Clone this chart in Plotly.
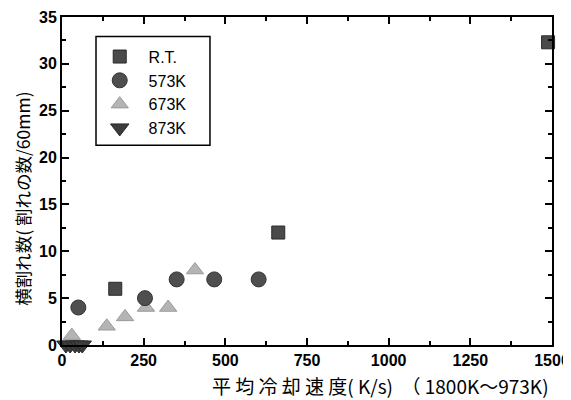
import plotly.graph_objects as go

# Data
rt_x = [163, 662, 1488]
rt_y = [6, 12, 32.3]

k573_x = [50, 254, 351, 466, 602]
k573_y = [4, 5, 7, 7, 7]

k673_x = [30, 137, 193, 257, 325, 407]
k673_y = [1, 2, 3, 4, 4, 8]

k873_x = [12, 25, 40, 52, 62]
k873_y = [0, 0, 0, 0, 0]

series_names = ["R.T.", "573K", "673K", "873K"]

x_ticks = [0, 250, 500, 750, 1000, 1250, 1500]
y_ticks = [0, 5, 10, 15, 20, 25, 30, 35]

x_title = "平 均 冷 却 速 度( K/s)  （ 1800K～973K)"
y_title = "横割れ数( 割れの数/60mm)"

NB = "\u00a0"


def legend_label(name):
    return NB * 2 + name


fig = go.Figure()

fig.add_trace(go.Scatter(
    x=k673_x, y=k673_y, mode="markers", name=legend_label(series_names[2]), legendrank=3,
    marker=dict(symbol="triangle-up", size=15, color="#b4b4b4",
                line=dict(color="#9a9a9a", width=1)),
    cliponaxis=False))
fig.add_trace(go.Scatter(
    x=rt_x, y=rt_y, mode="markers", name=legend_label(series_names[0]), legendrank=1,
    marker=dict(symbol="square", size=13, color="#4a4a4a",
                line=dict(color="#2a2a2a", width=1)),
    cliponaxis=False))
fig.add_trace(go.Scatter(
    x=k573_x, y=k573_y, mode="markers", name=legend_label(series_names[1]), legendrank=2,
    marker=dict(symbol="circle", size=15, color="#4f4f4f",
                line=dict(color="#333333", width=1)),
    cliponaxis=False))
fig.add_trace(go.Scatter(
    x=k873_x, y=k873_y, mode="markers", name=legend_label(series_names[3]), legendrank=4,
    marker=dict(symbol="triangle-down", size=16, color="#3c3c3c",
                line=dict(color="#2a2a2a", width=1)),
    cliponaxis=False))

tickfont = dict(family="Liberation Sans, Arial, sans-serif", size=16,
                color="black", weight="bold")

# page body has an 8px default margin; figure offset accounted for in sizes
fig.update_layout(
    width=563, height=392,
    margin=dict(l=54, r=19, t=8.5, b=55),
    plot_bgcolor="white", paper_bgcolor="white",
    showlegend=True,
    legend=dict(
        x=0.077, y=0.931, xanchor="left", yanchor="top",
        borderwidth=0, bgcolor="rgba(0,0,0,0)",
        font=dict(family="Liberation Sans, Arial, sans-serif", size=16, color="black"),
        itemwidth=30, tracegroupgap=0,
    ),
    shapes=[
        dict(type="rect", xref="paper", yref="paper",
             x0=0.0694, x1=0.302, y0=0.6088, y1=0.9406,
             line=dict(color="black", width=1.5), fillcolor="white", layer="below"),
    ],
    xaxis=dict(
        range=[0, 1500], tickvals=x_ticks, ticktext=[str(v) for v in x_ticks],
        showline=True, linecolor="black", linewidth=2, mirror="ticks",
        ticks="inside", ticklen=7, tickwidth=2, tickcolor="black",
        minor=dict(dtick=125, ticks="inside", ticklen=4, tickwidth=1.5, tickcolor="black"),
        showgrid=False, zeroline=False, tickfont=tickfont, automargin=False,
        ticklabeloverflow="allow",
    ),
    yaxis=dict(
        range=[0, 35], tickvals=y_ticks, ticktext=[str(v) for v in y_ticks],
        showline=True, linecolor="black", linewidth=2, mirror="ticks",
        ticks="inside", ticklen=7, tickwidth=2, tickcolor="black",
        minor=dict(dtick=2.5, ticks="inside", ticklen=4, tickwidth=1.5, tickcolor="black"),
        showgrid=False, zeroline=False, tickfont=tickfont, automargin=False,
        ticklabeloverflow="allow",
    ),
    annotations=[
        dict(text=x_title, xref="paper", yref="paper", x=0.649, y=-0.122,
             xanchor="center", yanchor="middle", showarrow=False,
             font=dict(family="Noto Sans CJK JP, sans-serif", size=19, color="black")),
        dict(text=y_title, xref="paper", yref="paper", x=-0.082, y=0.445,
             xanchor="center", yanchor="middle", showarrow=False, textangle=-90,
             font=dict(family="Noto Sans CJK JP, sans-serif", size=17.5, color="black")),
    ],
)

fig.write_html("out.html")
